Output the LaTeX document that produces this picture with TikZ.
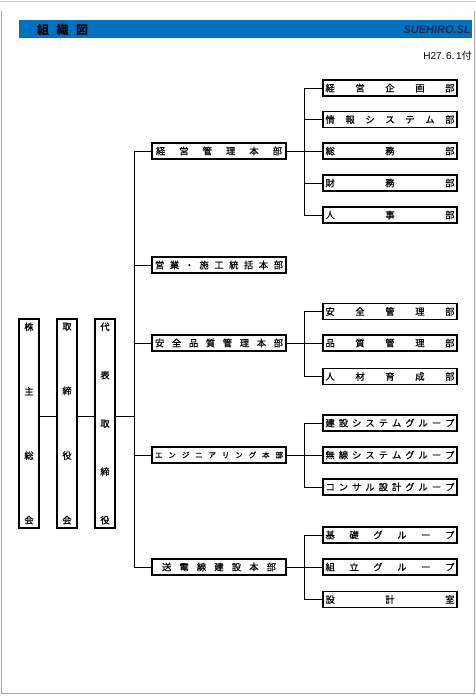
\documentclass[tikz,border=0pt]{standalone}
\usepackage{fontspec}
\setmainfont{Liberation Sans}
\newfontfamily\jp{Noto Sans CJK JP}
\newfontfamily\jpb[FakeBold=0.6]{Noto Sans CJK JP}
\definecolor{barblue}{HTML}{0070C0}
\definecolor{navy}{HTML}{1A2B55}
\makeatletter
\def\spreadit#1{\spr@a#1\@nil}
\def\spr@a#1{\ifx#1\@nil\else #1\expandafter\spr@b\fi}
\def\spr@b#1{\ifx#1\@nil\else\hfill#1\expandafter\spr@b\fi}
\def\vspreadit#1{\vsp@a#1\@nil}
\def\vsp@a#1{\ifx#1\@nil\else\hbox{#1}\expandafter\vsp@b\fi}
\def\vsp@b#1{\ifx#1\@nil\else\vfill\hbox{#1}\expandafter\vsp@b\fi}
\makeatother
\newcommand\hd[2]{\hbox to #1{\spreadit{#2}}}
\newcommand\vd[1]{\vbox to 201pt{\vspreadit{#1}}}
\tikzset{
  orgbox/.style={draw, line width=1.1pt, inner sep=0pt, minimum height=16pt, minimum width=134pt, font=\jpb\fontsize{9.3}{10}\selectfont},
  vbox/.style={draw, line width=1.1pt, inner sep=0pt, minimum height=209pt, minimum width=20pt, font=\jpb\fontsize{9.3}{10}\selectfont},
  link/.style={line width=0.8pt},
  frame/.style={draw=black!35, line width=0.8pt}
}
\begin{document}
\begin{tikzpicture}[x=1pt,y=-1pt]
\useasboundingbox (0,0) rectangle (476,696);
% page frame
\draw[draw=black!20, line width=0.6pt] (0,1.5) -- (476,1.5);
\draw[frame] (1,11) -- (1,693.5) -- (474.5,693.5) -- (474.5,11);
% header bar
\fill[barblue] (19,20) rectangle (472,38);
\node[anchor=west, inner sep=0pt, font=\jp\bfseries\fontsize{12}{12}\selectfont] (title) at (37,29.5) {\hd{51pt}{組織図}};
\node[anchor=east, inner sep=0pt, text=navy, font=\bfseries\itshape\fontsize{11}{11}\selectfont] (logo) at (471,29.5) {SUEHIRO.SL};
\node[anchor=east, inner sep=0pt, font=\fontsize{10}{10}\selectfont] (date) at (472,56) {H27.\,6.\,1{\jp 付}};
% level 1
\node[vbox] (kabu) at (29,423.5) {\vd{株主総会}};
\node[vbox] (tori) at (67,423.5) {\vd{取締役会}};
\node[vbox] (daih) at (105,423.5) {\vd{代表取締役}};
% level 2
\node[orgbox] (k2a) at (219,151) {\hd{126pt}{経営管理本部}};
\node[orgbox] (k2b) at (219,265) {\hd{128pt}{営業・施工統括本部}};
\node[orgbox] (k2c) at (219,343) {\hd{128pt}{安全品質管理本部}};
\node[orgbox, font=\jpb\fontsize{7.5}{9}\selectfont] (k2d) at (219,455) {\hd{128pt}{エンジニアリング本部}};
\node[orgbox] (k2e) at (219,567) {\hd{114pt}{送電線建設本部}};
% level 3
\node[orgbox] (a1) at (390,88) {\hd{129pt}{経営企画部}};
\node[orgbox] (a2) at (390,119.5) {\hd{129pt}{情報システム部}};
\node[orgbox] (a3) at (390,151) {\hd{129pt}{総務部}};
\node[orgbox] (a4) at (390,183) {\hd{129pt}{財務部}};
\node[orgbox] (a5) at (390,215) {\hd{129pt}{人事部}};
\node[orgbox] (c1) at (390,311.5) {\hd{129pt}{安全管理部}};
\node[orgbox] (c2) at (390,343) {\hd{129pt}{品質管理部}};
\node[orgbox] (c3) at (390,376.5) {\hd{129pt}{人材育成部}};
\node[orgbox] (d1) at (390,423) {\hd{129pt}{建設システムグループ}};
\node[orgbox] (d2) at (390,455) {\hd{129pt}{無線システムグループ}};
\node[orgbox] (d3) at (390,487) {\hd{129pt}{コンサル設計グループ}};
\node[orgbox] (e1) at (390,535) {\hd{129pt}{基礎グループ}};
\node[orgbox] (e2) at (390,567) {\hd{129pt}{組立グループ}};
\node[orgbox] (e3) at (390,599.5) {\hd{129pt}{設計室}};
% connectors
\coordinate (j) at (0,416);
\coordinate (tr) at (134,0);
\coordinate (br) at (304,0);
\draw[link] (kabu.east |- j) -- (tori.west |- j);
\draw[link] (tori.east |- j) -- (daih.west |- j);
\draw[link] (daih.east |- j) -- (j -| tr);
\draw[link] (k2a.west -| tr) -- (k2e.west -| tr);
\foreach \n in {k2a,k2b,k2c,k2d,k2e} \draw[link] (\n.west) -- (\n.west -| tr);
\foreach \p/\f/\l in {k2a/a1/a5,k2c/c1/c3,k2d/d1/d3,k2e/e1/e3} {
  \draw[link] (\p.east) -- (\p.east -| br);
  \draw[link] (\f.west -| br) -- (\l.west -| br);
}
\foreach \n in {a1,a2,a3,a4,a5,c1,c2,c3,d1,d2,d3,e1,e2,e3} \draw[link] (\n.west) -- (\n.west -| br);
\end{tikzpicture}
\end{document}
